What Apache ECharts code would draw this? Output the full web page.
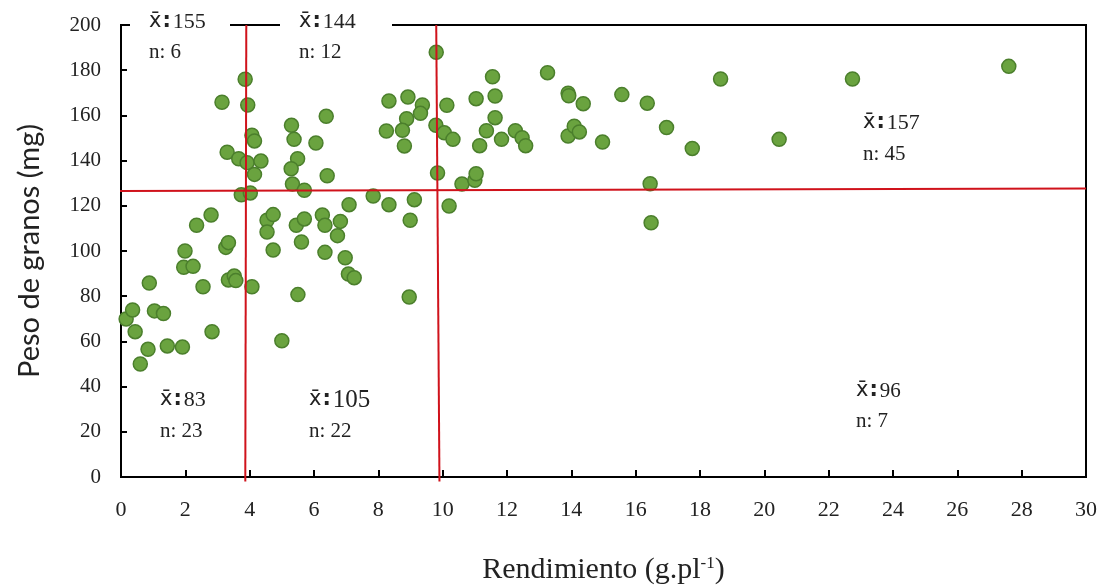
<!DOCTYPE html>
<html><head><meta charset="utf-8">
<script src="https://cdn.jsdelivr.net/npm/echarts@6/dist/echarts.min.js"></script>
<style>html,body{margin:0;padding:0;background:#fff}#c{width:1111px;height:585px}</style>
</head><body><div id="c"></div>
<script>
// Rendimiento (g.pl-1)
const rendimiento = [0.16,0.36,0.44,0.60,0.84,0.88,1.04,1.32,1.44,1.91,1.95,1.99,2.24,2.35,2.55,2.80,2.83,3.14,3.30,3.26,
3.34,3.34,3.52,3.57,3.66,3.74,3.86,3.92,3.94,4.02,4.07,4.07,4.15,4.15,4.35,4.54,4.73,4.54,4.73,5.00,
5.30,5.38,5.49,5.29,5.33,5.70,6.38,6.06,6.41,5.45,5.70,5.61,5.50,6.26,6.34,6.34,6.82,6.73,6.97,7.07,
7.25,7.09,7.84,8.33,9.12,8.99,8.96,8.33,8.92,9.37,9.31,8.88,8.25,8.75,8.81,9.80,9.79,9.84,10.05,10.13,
10.32,10.20,10.60,11.00,11.04,11.04,11.15,11.36,11.55,11.63,11.63,11.83,12.26,12.47,12.58,13.26,13.90,13.92,13.90,14.09,
14.25,14.37,14.97,15.57,16.36,16.45,16.48,16.96,17.76,18.64,20.46,22.74,27.60];
// Peso de granos (mg)
const peso = [69.9,73.9,64.3,50.0,56.5,85.8,73.5,72.3,58.0,57.5,92.8,100.0,93.2,111.4,84.2,115.9,64.3,165.8,143.7,101.6,
103.7,87.2,88.9,86.9,140.8,124.9,176.0,139.1,164.6,125.7,151.2,84.2,148.7,133.9,139.8,113.6,116.1,108.4,100.4,60.3,
155.6,149.4,140.8,136.4,129.6,126.9,159.6,147.8,133.3,111.4,114.2,104.0,80.7,115.9,111.4,99.4,113.1,106.8,97.0,89.8,
88.2,120.5,124.3,120.5,122.7,113.6,79.6,166.4,168.1,164.6,160.9,158.5,153.1,153.4,146.5,187.9,155.6,134.5,152.3,164.5,
149.4,119.9,129.6,131.3,134.2,167.4,146.6,153.2,177.1,168.6,159.0,149.4,153.2,150.1,146.6,178.9,169.8,168.7,150.9,155.2,
152.7,165.2,148.2,169.2,165.4,129.8,112.5,154.6,145.4,176.1,149.4,176.1,181.7];
// Divider lines (data units)
const vLine1 = [[3.895,200],[3.864,-2]];
const vLine2 = [[9.80,200],[9.90,-2]];
const hLine = [[-0.12,126.5],[30,127.7]];
// Quadrant annotations
const quadMeans = ['155','144','157','83','105','96'];
const quadN = ['6','12','45','23','22','7'];
// annotation placement (pixels): [left, centerY line1, centerY line2, digit font size]
const quadPos = [[149,22,52,22],[299,22,52,22],[863,123,154,22],[160,400,431,22],[309,400,431,25],[856,391,421,21]];

const pts = rendimiento.map((x,i)=>[x,peso[i]]);
const chart = echarts.init(document.getElementById('c'));
const serif = 'Liberation Serif';
const graphics = [
  {type:'rect', shape:{x:130,y:17,width:100,height:16}, style:{fill:'#fff'}, z:100},
  {type:'rect', shape:{x:280,y:17,width:112,height:16}, style:{fill:'#fff'}, z:100}
];
quadPos.forEach((p,i)=>{
  graphics.push({type:'text', x:p[0], y:p[1], z:101, style:{
    text:'{a|x\u0304}{b|:}{c|'+quadMeans[i]+'}', verticalAlign:'middle',
    rich:{a:{fontFamily:'DejaVu Sans',fontSize:21,fill:'#222'},
          b:{fontFamily:'DejaVu Sans',fontSize:21,fontWeight:'bold',fill:'#222',padding:[0,2,0,1]},
          c:{fontFamily:serif,fontSize:p[3],fill:'#222'}}}});
  graphics.push({type:'text', x:p[0], y:p[2], z:101, style:{
    text:'n: '+quadN[i], verticalAlign:'middle', fontFamily:serif, fontSize:21, fill:'#222'}});
});
const red = '#d0121b';
chart.setOption({
  animation:false,
  backgroundColor:'#fff',
  grid:{left:121,right:25,top:25,bottom:108,show:true,borderColor:'#000',borderWidth:2,backgroundColor:'transparent',
    containLabel:false,outerBoundsMode:'none'},
  xAxis:{type:'value',min:0,max:30,interval:2,
    name:'Rendimiento (g.pl{s|-1})',nameLocation:'middle',nameGap:78,
    nameTextStyle:{fontFamily:serif,fontSize:30,color:'#222',rich:{s:{fontFamily:serif,fontSize:17,color:'#222',verticalAlign:'top',padding:[0,0,14,0]}}},
    axisLine:{lineStyle:{color:'#000',width:2}},
    axisTick:{inside:true,length:7,lineStyle:{color:'#000',width:2}},
    axisLabel:{fontFamily:serif,fontSize:22,color:'#222',margin:22},
    splitLine:{show:false}},
  yAxis:{type:'value',min:0,max:200,interval:20,
    name:'Peso de granos (mg)',nameLocation:'middle',nameGap:77,
    nameTextStyle:{fontFamily:'Lato',fontSize:29,color:'#222'},
    axisLine:{lineStyle:{color:'#000',width:2}},
    axisTick:{inside:true,length:6,lineStyle:{color:'#000',width:2}},
    axisLabel:{fontFamily:serif,fontSize:21,color:'#222',margin:20},
    splitLine:{show:false}},
  series:[
    {type:'scatter',data:pts,symbolSize:14,z:2,
      itemStyle:{color:'#6aa33f',borderColor:'#4b7f2c',borderWidth:1.5,opacity:1}},
    {type:'line',data:hLine,clip:false,symbol:'none',z:5,lineStyle:{color:red,width:2}},
    {type:'line',data:vLine1,clip:false,symbol:'none',z:5,lineStyle:{color:red,width:2}},
    {type:'line',data:vLine2,clip:false,symbol:'none',z:5,lineStyle:{color:red,width:2}}
  ],
  graphic:graphics
});
</script></body></html>
